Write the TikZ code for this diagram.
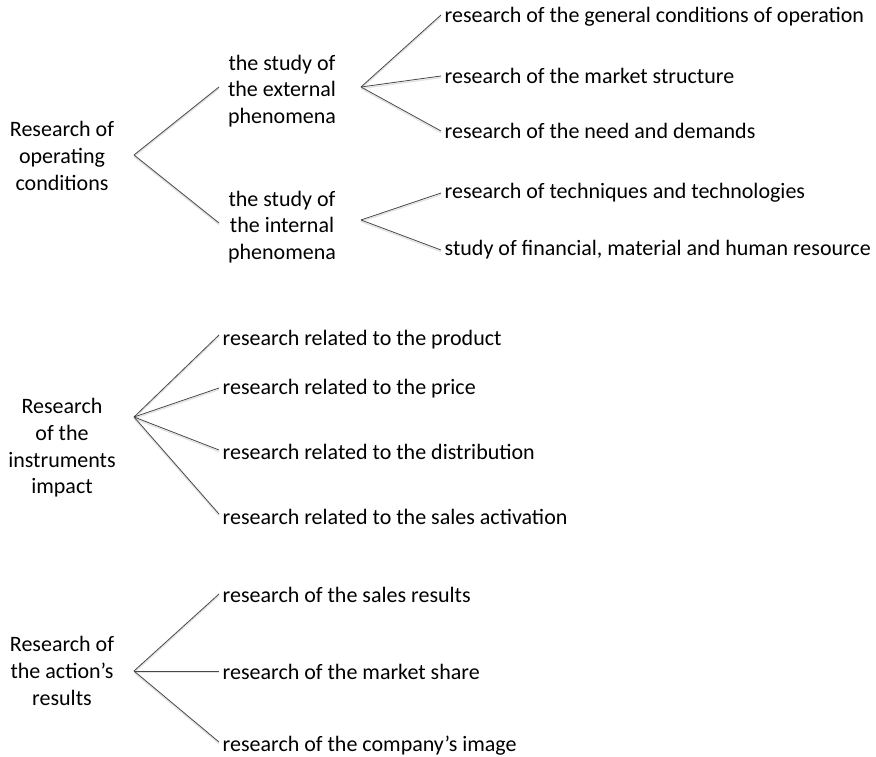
\documentclass[tikz,border=0pt]{standalone}
\usepackage{fontspec}
\setmainfont{Carlito}
\begin{document}
\begin{tikzpicture}[x=1pt,y=-1pt,
  every node/.style={font=\fontsize{22}{26.6}\selectfont},
  root/.style={align=center, inner sep=0pt},
  lbl/.style={anchor=west, inner sep=3.5pt},
  conn/.style={draw=black!72, line width=0.8pt,
    preaction={draw=black!11, line width=1.3pt, transform canvas={yshift=-1.6pt}}}]
\useasboundingbox (0,0) rectangle (876,757);

% --- operating conditions ---
\node[root] (r1) at (62,156) {Research of\\operating\\conditions};
\coordinate (a1) at (134,155);
\node[root] (m1) at (282,91) {the study of\\the external\\phenomena};
\node[root] (m2) at (282,227) {the study of\\the internal\\phenomena};
\coordinate (t1) at (219,87);
\coordinate (t2) at (219,223);
\draw[conn] (a1) -- (t1);
\draw[conn] (a1) -- (t2);

\coordinate (a2) at (361,87);
\node[lbl] (e1) at (441,17) {research of the general conditions of operation};
\node[lbl] (e2) at (441,76) {research of the market structure};
\node[lbl] (e3) at (441,131) {research of the need and demands};
\draw[conn] (a2) -- ([yshift=2pt]e1.west);
\draw[conn] (a2) -- (e2.west);
\draw[conn] (a2) -- (e3.west);

\coordinate (a3) at (361,220);
\node[lbl] (e4) at (441,193) {research of techniques and technologies};
\node[lbl] (e5) at (441,250) {study of financial, material and human resource};
\draw[conn] (a3) -- (e4.west);
\draw[conn] (a3) -- (e5.west);

% --- instruments impact ---
\node[root] (r2) at (62,448) {Research\\of the\\instruments\\impact};
\coordinate (a4) at (134,417);
\node[lbl] (f1) at (219,340) {research related to the product};
\node[lbl] (f2) at (219,389) {research related to the price};
\node[lbl] (f3) at (219,452) {research related to the distribution};
\node[lbl] (f4) at (219,517) {research related to the sales activation};
\draw[conn] (a4) -- ([yshift=5pt]f1.west);
\draw[conn] (a4) -- ([yshift=1pt]f2.west);
\draw[conn] (a4) -- ([yshift=2pt]f3.west);
\draw[conn] (a4) -- ([yshift=3pt]f4.west);

% --- action's results ---
\node[root] (r3) at (62,671) {Research of\\the action’s\\results};
\coordinate (a5) at (134,671);
\node[lbl] (g1) at (219,595) {research of the sales results};
\node[lbl] (g2) at (219,672) {research of the market share};
\node[lbl] (g3) at (219,746) {research of the company’s image};
\draw[conn] (a5) -- ([yshift=1pt]g1.west);
\draw[conn] (a5) -- ([yshift=1pt]g2.west);
\draw[conn] (a5) -- ([yshift=4pt]g3.west);
\end{tikzpicture}
\end{document}
